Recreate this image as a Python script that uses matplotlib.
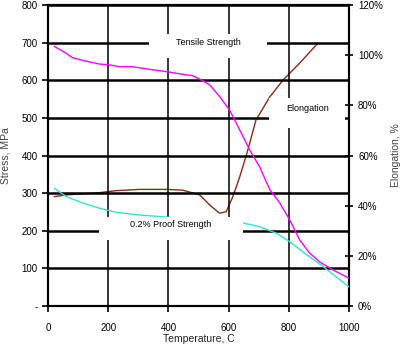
import matplotlib
matplotlib.use("Agg")
import matplotlib.pyplot as plt
from matplotlib.ticker import FuncFormatter

plt.rcParams['font.family'] = ['Liberation Sans', 'DejaVu Sans']

# Tensile strength, MPa
t_tensile = [21, 60, 81, 130, 171, 204, 237, 281, 337, 393, 437, 481, 504, 537, 570, 603, 637,
             670, 703, 737, 770, 803, 836, 869, 903, 947, 1000]
tensile = [690, 672, 660, 650, 643, 641, 636, 636, 629, 623, 617, 612, 603, 588, 557, 521, 468,
           415, 370, 309, 274, 229, 176, 141, 117, 96, 74]

# 0.2% proof strength, MPa
t_proof = [21, 60, 115, 171, 227, 304, 400, 500, 600, 647, 703, 760, 803, 860, 914, 1000]
proof = [313, 291, 274, 260, 249, 242, 236, 230, 225, 221, 211, 193, 171, 136, 105, 51]

# Elongation, %
t_elong = [21, 60, 171, 227, 304, 393, 448, 504, 537, 570, 592, 614, 637, 664, 691, 737, 781,
           836, 896]
elong = [43.6, 44.3, 45.2, 46.0, 46.5, 46.5, 46.2, 44.3, 40.3, 37.0, 37.6, 43.6, 51.5, 62.2,
         74.2, 83.4, 90.1, 96.8, 104.7]

# label boxes: (text, x0, y0, x1, y1) in data units of the stress axis
labels = [("Tensile Strength", 337, 659, 726, 723),
          ("Elongation", 735, 473, 988, 553),
          ("0.2% Proof Strength", 171, 176, 647, 237)]

fig = plt.figure(figsize=(4, 3.47), dpi=100)
ax = fig.add_axes([0.12, 0.118, 0.7525, 0.8676])
ax2 = ax.twinx()
ax2.set_facecolor('#FFFFC6')

ax.plot(t_tensile, tensile, color='#FF00FF', lw=1.0, zorder=3)
ax.plot(t_proof, proof, color='#33E0D6', lw=1.0, zorder=3)

ax.set_xlim(0, 1000)
ax.set_ylim(0, 800)
ax.set_xticks(range(0, 1001, 200))
ax.set_yticks(range(0, 801, 100))
ax.yaxis.set_major_formatter(FuncFormatter(lambda v, p: '-' if v == 0 else f"{int(v)}"))
for y in range(100, 801, 100):
    ax.axhline(y, color='black', lw=1.8, zorder=1)
for x in range(200, 1000, 200):
    ax.axvline(x, color='black', lw=1.1, zorder=1)
for s in ax.spines.values():
    s.set_linewidth(1.5)
ax.tick_params(axis='both', labelsize=7, length=4, width=1.2, direction='out')
ax.tick_params(axis='x', pad=8)

ax.set_xlabel("Temperature, C", fontsize=7.5, color='#222222', labelpad=1)
ax.set_ylabel("Stress, MPa", fontsize=7.5, color='#444444')
ax.yaxis.set_label_coords(-0.125, 0.5)

ax2.plot(t_elong, elong, color='#8B2A10', lw=1.0, zorder=3)
ax2.set_ylim(0, 120)
ax2.set_yticks(range(0, 121, 20))
ax2.yaxis.set_major_formatter(FuncFormatter(lambda v, p: f"{int(v)}%"))
ax2.tick_params(axis='y', labelsize=7, length=6, width=1.2, direction='inout')
ax2.set_ylabel("Elongation, %", fontsize=7.5, color='#444444')
ax2.yaxis.set_label_coords(1.14, 0.5)
for s in ax2.spines.values():
    s.set_linewidth(1.5)

for text, x0, y0, x1, y1 in labels:
    ax.add_patch(plt.Rectangle((x0, y0), x1 - x0, y1 - y0, fc='white', ec='none', zorder=4))
    ax.text((x0 + x1) / 2, y1 - 0.35 * (y1 - y0), text, fontsize=6.5,
            ha='center', va='center', zorder=5)

ax.set_zorder(ax2.get_zorder() + 1)
ax.patch.set_visible(False)

fig.savefig("out.png", dpi=100)
